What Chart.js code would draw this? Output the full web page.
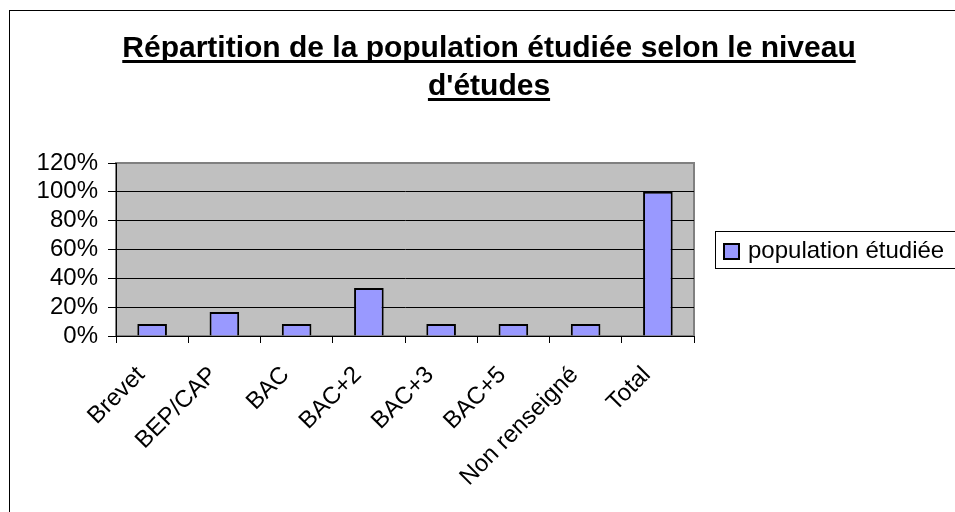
<!DOCTYPE html>
<html>
<head>
<meta charset="utf-8">
<script src="https://cdn.jsdelivr.net/npm/chart.js@4/dist/chart.umd.min.js"></script>
<style>
  html, body { margin: 0; padding: 0; background: #fff; }
  #wrap { width: 955px; height: 512px; position: relative; }
</style>
</head>
<body>
<div id="wrap"><canvas id="c" width="955" height="512"></canvas></div>
<script>
const categories = ['Brevet', 'BEP/CAP', 'BAC', 'BAC+2', 'BAC+3', 'BAC+5', 'Non renseigné', 'Total'];
const seriesLabel = 'population étudiée';
const seriesValues = [8.3, 16.7, 8.3, 33.3, 8.3, 8.3, 8.3, 100];
const yTickValues = [0, 20, 40, 60, 80, 100, 120];
const titleLines = ['Répartition de la population étudiée selon le niveau', "d'études"];

const FONT = "'Liberation Sans', Arial, sans-serif";
const BAR_FILL = '#9999FF';

const framePlugin = {
  id: 'frame',
  beforeDraw(chart) {
    const ctx = chart.ctx;
    const a = chart.chartArea;
    ctx.save();
    ctx.fillStyle = '#fff';
    ctx.fillRect(0, 0, chart.width, chart.height);
    // outer chart border
    ctx.strokeStyle = '#000';
    ctx.lineWidth = 1;
    ctx.strokeRect(9.5, 10.5, chart.width + 20, chart.height + 20);
    // plot area
    ctx.fillStyle = '#C0C0C0';
    ctx.fillRect(a.left, a.top, a.right - a.left, a.bottom - a.top);
    ctx.strokeStyle = '#808080';
    ctx.lineWidth = 2;
    ctx.strokeRect(a.left, a.top, a.right - a.left, a.bottom - a.top);
    ctx.restore();
  },
  afterDraw(chart) {
    const ctx = chart.ctx;
    ctx.save();
    // title with underline
    ctx.font = 'bold 30px ' + FONT;
    ctx.fillStyle = '#000';
    ctx.textAlign = 'center';
    ctx.textBaseline = 'alphabetic';
    const cx = 489;
    const baselines = [57, 95];
    titleLines.forEach((t, i) => {
      ctx.fillText(t, cx, baselines[i]);
      const w = ctx.measureText(t).width;
      ctx.fillRect(cx - w / 2, baselines[i] + 3, w, 3);
    });
    // legend
    const lx = 715, ly = 231, lw = 245, lh = 37;
    ctx.strokeStyle = '#000';
    ctx.lineWidth = 1;
    ctx.strokeRect(lx + 0.5, ly + 0.5, lw, lh);
    const ds = chart.data.datasets[0];
    ctx.fillStyle = ds.backgroundColor;
    ctx.fillRect(724, 244, 15, 15);
    ctx.lineWidth = 2;
    ctx.strokeRect(724, 244, 15, 15);
    ctx.fillStyle = '#000';
    ctx.font = '24px ' + FONT;
    ctx.textAlign = 'left';
    ctx.textBaseline = 'middle';
    ctx.fillText(ds.label, 748, 251);
    ctx.restore();
  }
};

new Chart(document.getElementById('c'), {
  type: 'bar',
  data: {
    labels: categories,
    datasets: [{
      label: seriesLabel,
      data: seriesValues,
      backgroundColor: BAR_FILL,
      borderColor: '#000',
      borderWidth: 2,
      barPercentage: 0.41,
      categoryPercentage: 1
    }]
  },
  options: {
    responsive: false,
    devicePixelRatio: 1,
    animation: false,
    layout: { padding: { top: 163, left: 0, right: 261, bottom: 0 } },
    plugins: {
      legend: { display: false },
      title: { display: false },
      tooltip: { enabled: false }
    },
    scales: {
      x: {
        offset: true,
        afterFit(scale) { scale.height = 176; },
        grid: {
          offset: true,
          drawOnChartArea: false,
          drawTicks: true,
          tickLength: 7,
          tickColor: '#000',
          tickWidth: 1
        },
        border: { color: '#000', width: 1 },
        ticks: {
          autoSkip: false,
          minRotation: 45,
          maxRotation: 45,
          padding: 18,
          labelOffset: -11,
          color: '#000',
          font: { family: FONT, size: 24 }
        }
      },
      y: {
        min: 0,
        max: 120,
        afterFit(scale) { scale.width = 116; },
        afterBuildTicks(scale) { scale.ticks = yTickValues.map(v => ({ value: v })); },
        grid: {
          color: (c) => (c.tick && c.tick.value === 120 ? '#808080' : '#000'),
          lineWidth: 1,
          drawTicks: true,
          tickLength: 8,
          tickColor: '#000'
        },
        border: { color: '#000', width: 1 },
        ticks: {
          autoSkip: false,
          padding: 10,
          color: '#000',
          font: { family: FONT, size: 24 },
          callback: (v) => v + '%'
        }
      }
    }
  },
  plugins: [framePlugin]
});
</script>
</body>
</html>
